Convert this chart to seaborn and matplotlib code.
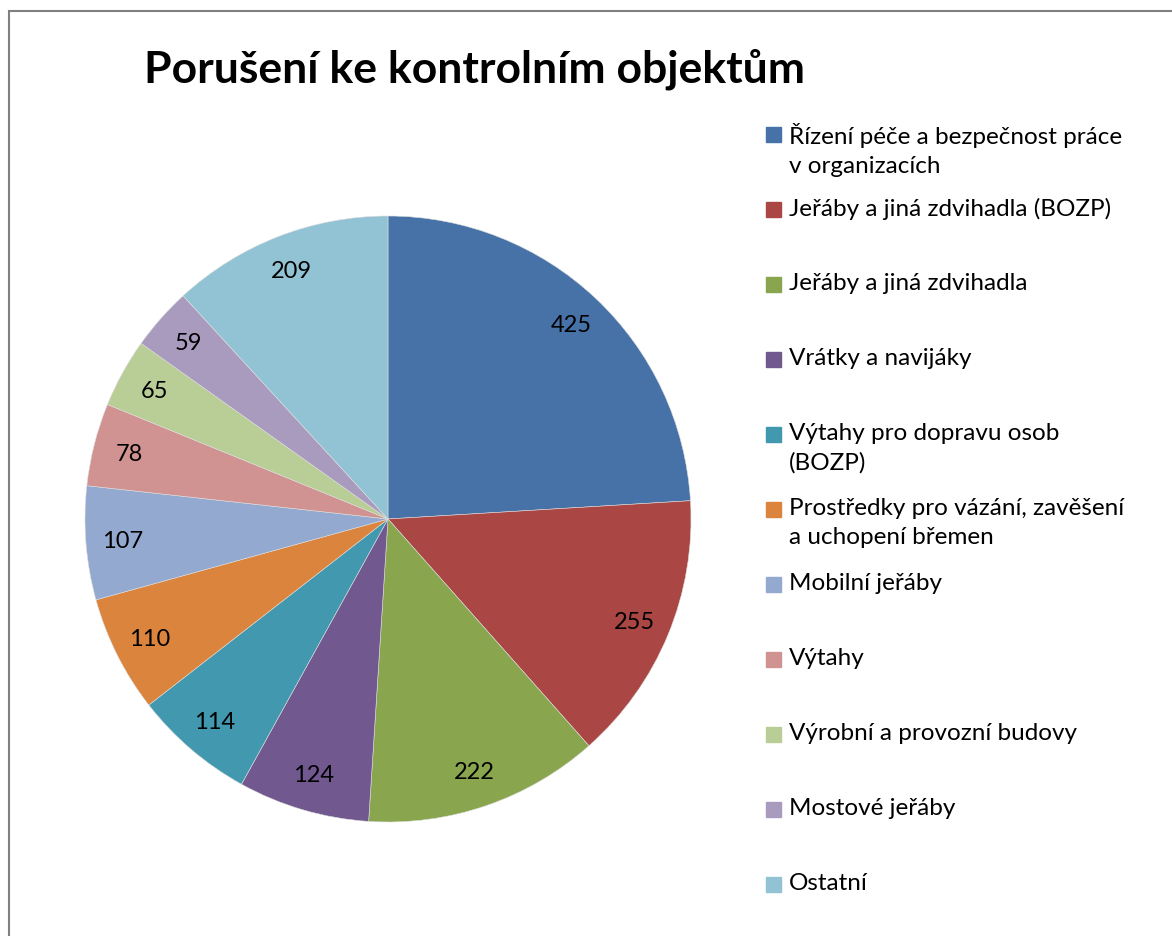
import numpy as np
import matplotlib
matplotlib.use("Agg")
import matplotlib.pyplot as plt
import seaborn as sns
from matplotlib.patches import Rectangle

labels = [
    "Řízení péče a bezpečnost práce\nv organizacích",
    "Jeřáby a jiná zdvihadla (BOZP)",
    "Jeřáby a jiná zdvihadla",
    "Vrátky a navijáky",
    "Výtahy pro dopravu osob\n(BOZP)",
    "Prostředky pro vázání, zavěšení\na uchopení břemen",
    "Mobilní jeřáby",
    "Výtahy",
    "Výrobní a provozní budovy",
    "Mostové jeřáby",
    "Ostatní",
]
values = [425, 255, 222, 124, 114, 110, 107, 78, 65, 59, 209]
colors = ["#4672A8", "#AA4644", "#89A54E", "#71588F", "#4198AF", "#DB843D",
          "#93A9CF", "#D19392", "#B9CD96", "#A99BBD", "#92C3D5"]
title = "Porušení ke kontrolním objektům"

sns.set_style("white")
plt.rcParams['font.family'] = ['Lato', 'DejaVu Sans']
plt.rcParams['text.color'] = 'black'

W, H = 1172, 937
fig = plt.figure(figsize=(W / 100, H / 100), dpi=100)

# chart area frame (only left/top edges fall inside the image)
fig.patches.append(Rectangle((9 / W, -0.5), 1.5, 1.5 - 12 / H, transform=fig.transFigure,
                             fill=False, edgecolor="#808080", linewidth=1.5))

palette = sns.color_palette(colors)
total = sum(values)

# pie: centre (388, 520) px, radius 303 px
ax = fig.add_axes([(388 - 303) / W, (H - 823) / H, 606 / W, 606 / H])
wedges, _, autotexts = ax.pie(
    values, colors=palette, startangle=90, counterclock=False,
    autopct=lambda p: f"{p * total / 100:.0f}", pctdistance=0.88,
    textprops=dict(fontsize=17, color="black"),
    wedgeprops=dict(linewidth=0.4, edgecolor="#dddddd"),
)
ax.set_aspect("equal")
ax.set_xlim(-1, 1)
ax.set_ylim(-1, 1)
ax.axis("off")

fig.text(475 / W, 1 - 69 / H, title, ha="center", va="center",
         fontsize=32, fontweight="bold", color="black")

# legend, Excel style: fixed step between entries
for i, (lab, col) in enumerate(zip(labels, palette)):
    ytop = 123 + i * 75
    fig.patches.append(Rectangle((766 / W, 1 - (ytop + 20) / H), 15 / W, 15 / H,
                                 transform=fig.transFigure, color=col))
    fig.text(789 / W, 1 - ytop / H, lab, ha="left", va="top",
             fontsize=17.5, linespacing=1.45, color="black")

fig.savefig("out.png", dpi=100)
